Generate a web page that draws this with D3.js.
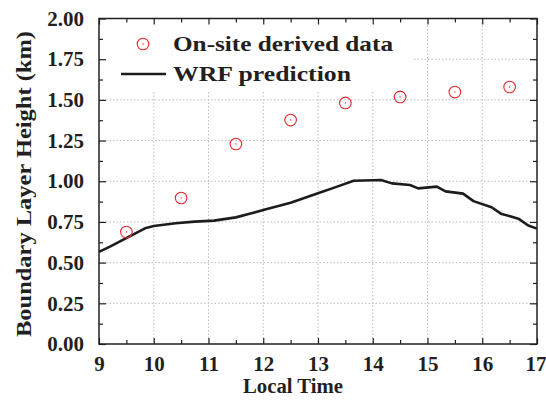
<!DOCTYPE html>
<html>
<head>
<meta charset="utf-8">
<script src="https://cdn.jsdelivr.net/npm/d3@7"></script>
<style>
  html, body { margin: 0; padding: 0; background: #fff; }
  svg { display: block; }
  text { font-family: "Liberation Serif", "Times New Roman", serif; font-weight: bold; fill: #231f20; }
</style>
</head>
<body>
<svg id="chart" width="546" height="403"></svg>
<script>
// Observed boundary layer heights (hourly, at half-hour marks)
const obsTime = [9.5, 10.5, 11.5, 12.5, 13.5, 14.5, 15.5, 16.5];
const obsHeight = [0.688, 0.897, 1.229, 1.376, 1.481, 1.518, 1.548, 1.579];

// WRF model boundary layer height
const wrfTime = [9.0, 9.2, 9.84, 10.0, 10.4, 10.75, 11.1, 11.5, 11.75, 12.0, 12.5, 13.0, 13.35, 13.65,
                 14.15, 14.35, 14.68, 14.83, 15.17, 15.33, 15.65, 15.84, 16.17, 16.34, 16.66, 16.84, 17.0];
const wrfHeight = [0.566, 0.598, 0.711, 0.725, 0.742, 0.752, 0.758, 0.778, 0.800, 0.823, 0.868, 0.926, 0.967, 1.003,
                   1.008, 0.987, 0.977, 0.956, 0.967, 0.938, 0.924, 0.878, 0.840, 0.801, 0.770, 0.728, 0.709];

const xTicks = [9, 10, 11, 12, 13, 14, 15, 16, 17];
const yTicks = [0, 0.25, 0.5, 0.75, 1.0, 1.25, 1.5, 1.75, 2.0];
const legendLabels = ["On-site derived data", "WRF prediction"];

(function () {
const svg = d3.select("#chart");
const m = { left: 99, right: 537, top: 18.5, bottom: 344 };
const x = d3.scaleLinear().domain([9, 17]).range([m.left, m.right]);
const y = d3.scaleLinear().domain([0, 2]).range([m.bottom, m.top]);
const W = m.right - m.left, H = m.bottom - m.top;

// grid
const grid = svg.append("g").attr("stroke", "#bdbdbd").attr("stroke-width", 1).attr("stroke-dasharray", "1.5,2");
grid.selectAll("line.gx").data(xTicks.slice(1, -1)).join("line")
  .attr("x1", d => x(d)).attr("x2", d => x(d)).attr("y1", m.top).attr("y2", m.bottom);
grid.selectAll("line.gy").data(yTicks.slice(1, -1)).join("line")
  .attr("y1", d => y(d)).attr("y2", d => y(d)).attr("x1", m.left).attr("x2", m.right);

// legend backdrop hides the grid
svg.append("rect").attr("x", m.left + 1).attr("y", m.top + 1).attr("width", 312).attr("height", 71).attr("fill", "#fff");

// axes with inward ticks
const xMinor = d3.range(9.5, 17, 1);
const yMinor = d3.range(0.125, 2, 0.25);
const xAxis = svg.append("g").attr("transform", `translate(0,${m.bottom})`)
  .call(d3.axisBottom(x).tickValues(xTicks).tickFormat(d3.format("d")).tickSizeInner(-6).tickSizeOuter(0).tickPadding(12));
svg.append("g").attr("transform", `translate(${m.left},0)`)
  .call(d3.axisLeft(y).tickValues(yTicks).tickFormat(d3.format(".2f")).tickSizeInner(-7).tickSizeOuter(0).tickPadding(15));
svg.append("g").attr("transform", `translate(0,${m.top})`)
  .call(d3.axisTop(x).tickValues(xTicks).tickFormat("").tickSizeInner(-6).tickSizeOuter(0));
svg.append("g").attr("transform", `translate(${m.right},0)`)
  .call(d3.axisRight(y).tickValues(yTicks).tickFormat("").tickSizeInner(-7).tickSizeOuter(0));
svg.append("g").attr("transform", `translate(0,${m.bottom})`)
  .call(d3.axisBottom(x).tickValues(xMinor).tickFormat("").tickSizeInner(-4).tickSizeOuter(0));
svg.append("g").attr("transform", `translate(0,${m.top})`)
  .call(d3.axisTop(x).tickValues(xMinor).tickFormat("").tickSizeInner(-4).tickSizeOuter(0));
svg.append("g").attr("transform", `translate(${m.left},0)`)
  .call(d3.axisLeft(y).tickValues(yMinor).tickFormat("").tickSizeInner(-4).tickSizeOuter(0));
svg.append("g").attr("transform", `translate(${m.right},0)`)
  .call(d3.axisRight(y).tickValues(yMinor).tickFormat("").tickSizeInner(-4).tickSizeOuter(0));
svg.selectAll(".domain").remove();
svg.selectAll(".tick line").attr("stroke", "#231f20").attr("stroke-width", 1.2);
svg.selectAll(".tick text").style("font-size", "21px").attr("fill", "#231f20")
  .style("font-family", "'Liberation Serif', serif").style("font-weight", "bold");
// last hour label sits flush with the right edge of the page
xAxis.selectAll(".tick text").filter(d => d === 17).attr("text-anchor", "end").attr("dx", 9);

// frame
svg.append("rect").attr("x", m.left).attr("y", m.top).attr("width", W).attr("height", H)
  .attr("fill", "none").attr("stroke", "#231f20").attr("stroke-width", 1.5);

// WRF line
const line = d3.line().x((d, i) => x(wrfTime[i])).y(d => y(d));
svg.append("path").datum(wrfHeight).attr("d", line)
  .attr("fill", "none").attr("stroke", "#1e1b1c").attr("stroke-width", 2.6).attr("stroke-linejoin", "round");

// observation markers
const obs = svg.append("g");
obs.selectAll("circle.o").data(obsHeight).join("circle")
  .attr("cx", (d, i) => x(obsTime[i])).attr("cy", d => y(d)).attr("r", 5.8)
  .attr("fill", "none").attr("stroke", "#e8262b").attr("stroke-width", 1.1);
obs.selectAll("circle.c").data(obsHeight).join("circle")
  .attr("cx", (d, i) => x(obsTime[i])).attr("cy", d => y(d)).attr("r", 0.7).attr("fill", "#e8262b");

// legend
svg.append("circle").attr("cx", 143).attr("cy", 44).attr("r", 5.8)
  .attr("fill", "none").attr("stroke", "#e8262b").attr("stroke-width", 1.1);
svg.append("circle").attr("cx", 143).attr("cy", 44).attr("r", 0.7).attr("fill", "#e8262b");
svg.append("line").attr("x1", 121).attr("x2", 166).attr("y1", 74).attr("y2", 74)
  .attr("stroke", "#1e1b1c").attr("stroke-width", 2.6);
svg.append("text").attr("x", 173).attr("y", 51).style("font-size", "21px")
  .attr("textLength", 220).attr("lengthAdjust", "spacingAndGlyphs").text(legendLabels[0]);
svg.append("text").attr("x", 173).attr("y", 81).style("font-size", "21px")
  .attr("textLength", 178).attr("lengthAdjust", "spacingAndGlyphs").text(legendLabels[1]);

// axis titles
svg.append("text").attr("x", 293).attr("y", 393).attr("text-anchor", "middle")
  .style("font-size", "20px").attr("textLength", 100).attr("lengthAdjust", "spacingAndGlyphs").text("Local Time");
svg.append("text").attr("transform", `translate(31,184) rotate(-90)`)
  .attr("text-anchor", "middle").style("font-size", "21px")
  .attr("textLength", 306).attr("lengthAdjust", "spacingAndGlyphs").text("Boundary Layer Height (km)");
})();
</script>
</body>
</html>
